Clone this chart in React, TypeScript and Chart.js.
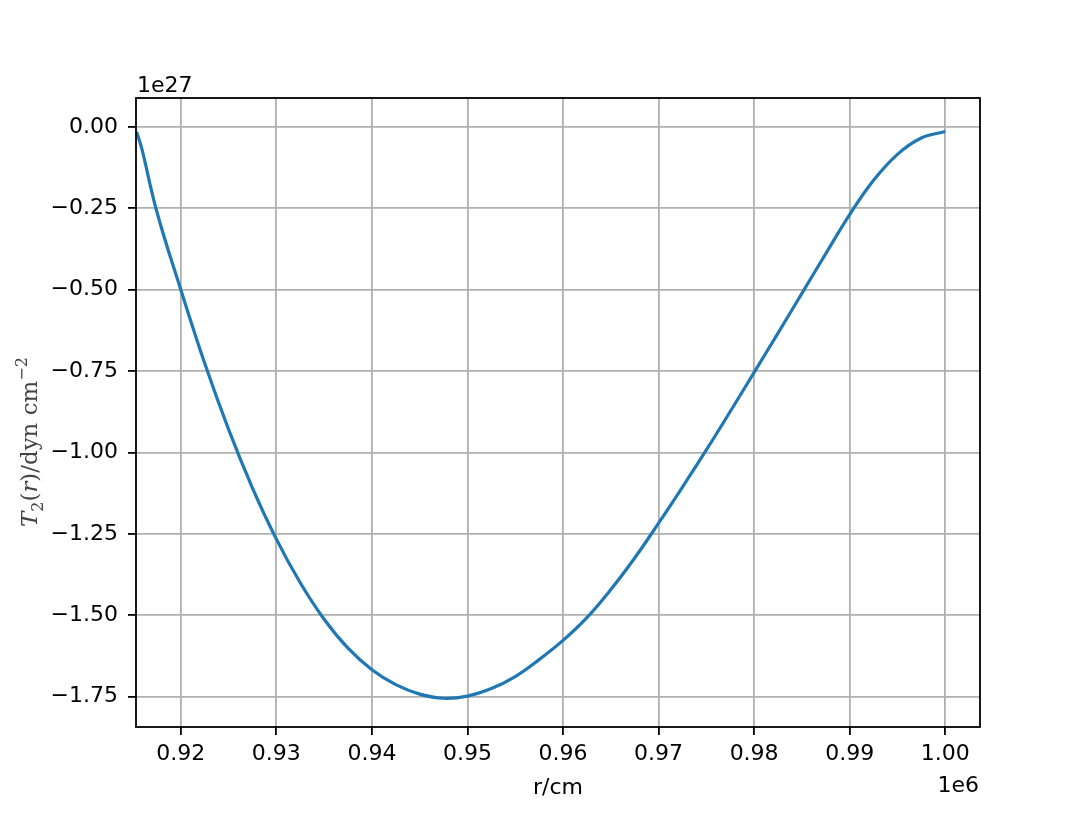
import React, { useEffect, useRef } from "react";
import { Chart, registerables } from "chart.js";

Chart.register(...registerables);

// r in units of 1e6 cm, T2 in units of 1e27 dyn cm^-2
const rValues = [
  0.91538, 0.91591, 0.9175, 0.92, 0.9225, 0.925, 0.9275, 0.93, 0.9325, 0.935,
  0.9375, 0.94, 0.9425, 0.945, 0.9475, 0.95, 0.9525, 0.955, 0.9575, 0.96,
  0.9625, 0.965, 0.9675, 0.97, 0.9725, 0.975, 0.9775, 0.98, 0.9825, 0.985,
  0.9875, 0.99, 0.9925, 0.995, 0.9975, 1.0,
];
const tValues = [
  -0.015, -0.066, -0.261, -0.5, -0.726, -0.929, -1.109, -1.266, -1.4, -1.512,
  -1.601, -1.667, -1.713, -1.742, -1.7547, -1.748, -1.725, -1.688, -1.636, -1.577,
  -1.507, -1.421, -1.324, -1.217, -1.106, -0.992, -0.874, -0.754, -0.633, -0.511,
  -0.389, -0.269, -0.164, -0.084, -0.034, -0.014,
];
const xTicks = [0.92, 0.93, 0.94, 0.95, 0.96, 0.97, 0.98, 0.99, 1.0];
const yTicks = [0, -0.25, -0.5, -0.75, -1.0, -1.25, -1.5, -1.75];
const xLabel = "r/cm";
const xOffsetText = "1e6";
const yOffsetText = "1e27";

const TICK_FONT = "DejaVu Sans";

const decorPlugin = {
  id: "decor",
  afterDraw(chart: any) {
    const { ctx, chartArea } = chart;
    const { left, right, top, bottom } = chartArea;
    ctx.save();
    // frame
    ctx.strokeStyle = "#000";
    ctx.lineWidth = 1.8;
    ctx.strokeRect(left, top, right - left, bottom - top);

    // offset texts
    ctx.fillStyle = "#000";
    ctx.font = `22px "${TICK_FONT}"`;
    ctx.textBaseline = "alphabetic";
    ctx.textAlign = "left";
    ctx.fillText(yOffsetText, left + 1, top - 6);
    ctx.textAlign = "right";
    ctx.fillText(xOffsetText, right - 1, 792);
    // x label
    ctx.textAlign = "center";
    ctx.fillText(xLabel, (left + right) / 2, 794);

    // y label (math-like): T_2(r)/dyn cm^{-2}
    const fam = '"DejaVu Serif"';
    const base = 20;
    const pieces = [
      { t: "T", style: "italic ", scale: 1, dy: 0 },
      { t: "2", style: "", scale: 0.7, dy: 5 },
      { t: "(", style: "", scale: 1, dy: 0 },
      { t: "r", style: "italic ", scale: 1, dy: 0 },
      { t: ")/dyn cm", style: "", scale: 1, dy: 0 },
      { t: "\u22122", style: "", scale: 0.7, dy: -9 },
    ];
    let total = 0;
    for (const p of pieces) {
      ctx.font = `${p.style}${base * p.scale}px ${fam}`;
      total += ctx.measureText(p.t).width;
    }
    const target = 170;
    const k = target / total;
    ctx.translate(37, 442);
    ctx.rotate(-Math.PI / 2);
    ctx.fillStyle = "#444";
    ctx.textAlign = "left";
    let x = -target / 2;
    for (const p of pieces) {
      ctx.font = `${p.style}${base * p.scale * k}px ${fam}`;
      ctx.fillText(p.t, x, p.dy * k);
      x += ctx.measureText(p.t).width;
    }
    ctx.restore();
  },
};

export default function App() {
  const ref = useRef<HTMLCanvasElement>(null);
  useEffect(() => {
    document.body.style.margin = "0";
    const canvas = ref.current!;
    const fmtY = (v: number) => {
      if (Math.abs(v) < 1e-9) return "0.00";
      return v < 0 ? "\u2212" + Math.abs(v).toFixed(2) : v.toFixed(2);
    };
    const chart = new Chart(canvas, {
      type: "line",
      data: {
        datasets: [
          {
            data: rValues.map((r, i) => ({ x: r, y: tValues[i] })),
            borderColor: "#1f77b4",
            borderWidth: 3.2,
            pointRadius: 0,
            tension: 0.4,
            fill: false,
          },
        ],
      },
      options: {
        responsive: false,
        animation: false,
        layout: { padding: { left: 0, top: 98, right: 109, bottom: 0 } },
        plugins: { legend: { display: false }, tooltip: { enabled: false } },
        scales: {
          x: {
            type: "linear",
            min: 0.91531,
            max: 1.00364,
            afterBuildTicks: (s: any) => {
              s.ticks = xTicks.map((v) => ({ value: v }));
            },
            afterFit: (s: any) => {
              s.height = 90;
            },
            grid: {
              color: "#b0b0b0",
              lineWidth: 1.8,
              tickColor: "#000",
              tickLength: 8,
              tickWidth: 1.8,
            },
            border: { display: false },
            ticks: {
              color: "#000",
              font: { family: TICK_FONT, size: 22 },
              padding: 6,
              maxRotation: 0,
              autoSkip: false,
              callback: (v: any) => Number(v).toFixed(2),
            },
          },
          y: {
            type: "linear",
            min: -1.843,
            max: 0.089,
            afterBuildTicks: (s: any) => {
              s.ticks = yTicks.map((v) => ({ value: v }));
            },
            afterFit: (s: any) => {
              s.width = 136;
            },
            grid: {
              color: "#b0b0b0",
              lineWidth: 1.8,
              tickColor: "#000",
              tickLength: 8,
              tickWidth: 1.8,
            },
            border: { display: false },
            ticks: {
              color: "#000",
              font: { family: TICK_FONT, size: 22 },
              padding: 10,
              autoSkip: false,
              callback: (v: any) => fmtY(Number(v)),
            },
          },
        },
      },
      plugins: [decorPlugin],
    });
    return () => chart.destroy();
  }, []);
  return (
    <div style={{ position: "absolute", left: 0, top: 0, width: 1089, height: 817 }}>
      <canvas ref={ref} width={1089} height={817} style={{ display: "block", width: 1089, height: 817 }} />
    </div>
  );
}
